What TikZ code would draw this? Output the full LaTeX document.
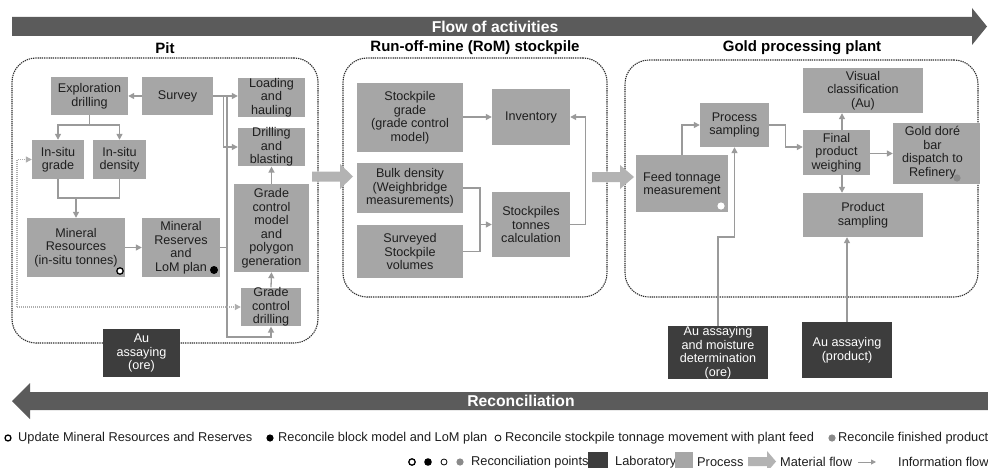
\documentclass[tikz,border=0pt]{standalone}
\usepackage{fontspec}
\setmainfont{Liberation Sans}
\usetikzlibrary{arrows.meta}
\definecolor{procfill}{HTML}{A6A6A6}
\definecolor{labfill}{HTML}{3D3D3D}
\definecolor{bannerfill}{HTML}{5B5B5B}
\definecolor{linegray}{HTML}{9A9A9A}
\definecolor{matfill}{HTML}{B3B3B3}
\definecolor{txt}{HTML}{1E1E1E}
\definecolor{framec}{HTML}{2E2E2E}
\definecolor{dotgray}{HTML}{8A8A8A}
\begin{document}
\begin{tikzpicture}[x=1pt,y=-1pt,
  proc/.style={fill=procfill, text=txt, align=center, inner sep=0pt, font=\fontsize{12.6}{13.5}\selectfont},
  lab/.style={fill=labfill, text=white, align=center, inner sep=0pt, font=\fontsize{12.6}{13.5}\selectfont},
  frame/.style={draw=framec, line width=1.1pt, dash pattern=on 1.3pt off 0.9pt, rounded corners=24pt, inner sep=0pt},
  ttl/.style={font=\fontsize{15}{17}\selectfont\bfseries, text=black, inner sep=0pt},
  conn/.style={draw=linegray, line width=1.3pt},
  arr/.style={conn, -{Triangle[length=6pt,width=6pt]}},
  info/.style={draw=linegray!80, line width=1.1pt, dash pattern=on 1pt off 1pt},
  infoarr/.style={info, -{Triangle[length=6pt,width=6pt]}},
  leg/.style={font=\fontsize{12.8}{14}\selectfont, text=txt, inner sep=0pt, anchor=west},
  ban/.style={font=\fontsize{15.7}{17}\selectfont\bfseries, text=white, inner sep=0pt},
  ringthick/.style={draw=black, line width=1.3pt, fill=white},
  ringthin/.style={draw=black, line width=0.8pt, fill=white},
]
\useasboundingbox (0,0) rectangle (988,468);
\fill[white] (0,0) rectangle (988,468);

% banners
\fill[bannerfill] (12,17) -- (972,17) -- (972,8) -- (987,26.5) -- (972,45) -- (972,36) -- (12,36) -- cycle;
\node[ban] (flowt) at (495,27) {Flow of activities};
\fill[bannerfill] (988,392) -- (30,392) -- (30,383) -- (12,401) -- (30,419) -- (30,410) -- (988,410) -- cycle;
\node[ban] (recont) at (521,401) {Reconciliation};

% frames
\node[frame, minimum width=306pt, minimum height=285pt] (pitf) at (165,200.5) {};
\node[frame, minimum width=264pt, minimum height=239pt] (romf) at (475,177.5) {};
\node[frame, minimum width=353pt, minimum height=237pt] (plantf) at (801.5,178.5) {};
\node[ttl] (pitt) at (165,48) {Pit};
\node[ttl] (romt) at (475,48) {Run-off-mine (RoM) stockpile};
\node[ttl] (plantt) at (802,48) {Gold processing plant};

% material flow arrows
\fill[matfill] (312,171.5) -- (340,171.5) -- (340,164) -- (353,176.5) -- (340,189) -- (340,181.5) -- (312,181.5) -- cycle;
\fill[matfill] (592,172) -- (620,172) -- (620,165) -- (634,177) -- (620,189) -- (620,182) -- (592,182) -- cycle;

% Pit boxes
\node[proc, minimum width=77pt, minimum height=38pt] (expl) at (89.5,96) {Exploration\\drilling};
\node[proc, minimum width=71pt, minimum height=38pt] (survey) at (177.5,96) {Survey};
\node[proc, minimum width=67pt, minimum height=39pt] (loading) at (271.5,97.5) {Loading\\and\\hauling};
\node[proc, minimum width=67pt, minimum height=38pt] (drilling) at (271.5,147) {Drilling\\and\\blasting};
\node[proc, minimum width=52pt, minimum height=39pt] (isgrade) at (58,159.5) {In-situ\\grade};
\node[proc, minimum width=53pt, minimum height=39pt] (isdens) at (119.5,159.5) {In-situ\\density};
\node[proc, minimum width=75pt, minimum height=88pt] (gcm) at (271.5,228) {Grade\\control\\model\\and\\polygon\\generation};
\node[proc, minimum width=98pt, minimum height=59pt] (minres) at (76,247.5) {Mineral\\Resources\\(in-situ tonnes)};
\node[proc, minimum width=78pt, minimum height=59pt] (minresv) at (181,247.5) {Mineral\\Reserves\\and\\LoM plan};
\node[proc, minimum width=60pt, minimum height=38pt] (gcd) at (271,307) {Grade\\control\\drilling};
\node[lab, minimum width=77pt, minimum height=48pt] (auore) at (141.5,353) {Au\\assaying\\(ore)};

\fill[white] (120,271) circle (3.5pt);
\draw[ringthick] (120,271) circle (3.2pt);
\fill[black] (214,270) circle (4pt);

% Pit connectors
\draw[arr] (survey.west) -- (expl.east);
\draw[arr] (survey.east) -- (loading.west |- survey.east);
\draw[arr] (survey.east) -- ++(10,0) |- (drilling.west);
\coordinate (vj) at (227,0);
\draw[conn] (minresv.east) -- (vj |- minresv.east);
\draw[conn] (vj |- survey.east) -- (vj |- 0,248);
\draw[arr] (vj |- 0,248) -- (vj |- 0,337) -| (gcd.south);
\draw[conn] (expl.south) -- (expl.south |- 0,125) coordinate (eb);
\draw[arr] (eb) -| (isgrade.north);
\draw[arr] (eb) -| (isdens.north);
\draw[conn] (isgrade.south) |- (isdens.south |- 0,198) -- (isdens.south);
\draw[arr] (minres.north |- 0,198) -- (minres.north);
\draw[arr] (minres.east) -- (minresv.west);
\draw[arr] (gcm.north) -- (drilling.south);
\draw[arr] (gcd.north) -- (gcm.south);
\coordinate (dfb) at (17,307);
\draw[infoarr] (dfb) |- (isgrade.west);
\draw[infoarr] (dfb) -- (gcd.west);

% RoM boxes
\node[proc, minimum width=106pt, minimum height=69pt] (spgrade) at (410,117.5) {Stockpile\\grade\\(grade control\\model)};
\node[proc, minimum width=78pt, minimum height=56pt] (inventory) at (531,117) {Inventory};
\node[proc, minimum width=106pt, minimum height=50pt] (bulk) at (410,188) {Bulk density\\(Weighbridge\\measurements)};
\node[proc, minimum width=106pt, minimum height=53pt] (surveyed) at (410,251.5) {Surveyed\\Stockpile\\volumes};
\node[proc, minimum width=78pt, minimum height=65pt] (sptonnes) at (531,224.5) {Stockpiles\\tonnes\\calculation};

% RoM connectors
\draw[arr] (spgrade.east |- inventory.west) -- (inventory.west);
\coordinate (rj) at (480,0);
\draw[conn] (bulk.east) -| (rj |- surveyed.east) -- (surveyed.east);
\draw[arr] (rj |- sptonnes.west) -- (sptonnes.west);
\draw[arr] (sptonnes.east) -- ++(15,0) |- (inventory.east);

% Plant boxes
\node[proc, minimum width=92pt, minimum height=57pt] (feed) at (682,183.5) {Feed tonnage\\measurement};
\node[proc, minimum width=69pt, minimum height=44pt] (procsamp) at (734.5,125) {Process\\sampling};
\node[proc, minimum width=120pt, minimum height=45pt] (visual) at (863,90.5) {Visual\\classification\\(Au)};
\node[proc, minimum width=67pt, minimum height=45pt] (fpw) at (836.5,152.5) {Final\\product\\weighing};
\node[proc, minimum width=87pt, minimum height=61pt] (dore) at (936.5,153.5) {\begin{tabular}{@{}c@{\hspace{8pt}}}Gold doré\\bar\\dispatch to\\Refinery\end{tabular}};
\node[proc, minimum width=120pt, minimum height=44pt] (prodsamp) at (863,215) {Product\\sampling};
\node[lab, minimum width=100pt, minimum height=51pt] (auore2) at (718,352.5) {Au assaying\\and moisture\\determination\\(ore)};
\node[lab, minimum width=90pt, minimum height=56pt] (auprod) at (847,350) {Au assaying\\(product)};

\fill[white] (721,206) circle (3.6pt);
\fill[dotgray] (957,178) circle (3.6pt);

% Plant connectors
\draw[arr] (feed.north) |- (procsamp.west);
\draw[arr] (procsamp.east) -- ++(16,0) |- ([yshift=5.5pt]fpw.west);
\draw[arr] (fpw.north -| 842,0) -- (visual.south -| 842,0);
\draw[arr] (fpw.south -| 842,0) -- (prodsamp.north -| 842,0);
\draw[arr] (fpw.east |- dore.west) -- (dore.west);
\draw[arr] (auore2.north) -- (auore2.north |- 0,237) -| (procsamp.south);
\draw[arr] (auprod.north) -- (auprod.north |- prodsamp.south);

% legend row 1
\draw[ringthick] (8,438) circle (3pt);
\node[leg] (l1) at (18,438) {Update Mineral Resources and Reserves};
\fill[black] (270,438) circle (3.6pt);
\node[leg] (l2) at (278,438) {Reconcile block model and LoM plan};
\draw[ringthin] (498,438) circle (3pt);
\node[leg] (l3) at (505,438) {Reconcile stockpile tonnage movement with plant feed};
\fill[dotgray] (832,438) circle (3.6pt);
\node[leg] (l4) at (838,438) {Reconcile finished product};

% legend row 2
\draw[ringthick] (412,462) circle (3.2pt);
\fill[black] (428,462) circle (3.8pt);
\draw[ringthin] (444,462) circle (3pt);
\fill[dotgray] (460,462) circle (3.6pt);
\node[leg] (l5) at (471,462) {Reconciliation points};
\node[fill=labfill, minimum width=20pt, minimum height=18pt, inner sep=0pt] (labkey) at (598,461) {};
\node[leg] (l6) at (615,462) {Laboratory};
\node[fill=procfill, minimum width=18pt, minimum height=18pt, inner sep=0pt] (prockey) at (684,461) {};
\node[leg] (l7) at (697,462) {Process};
\fill[matfill] (748,457) -- (767,457) -- (767,451) -- (776,461.5) -- (767,472) -- (767,466) -- (748,466) -- cycle;
\node[leg] (l8) at (780,462) {Material flow};
\coordinate (ia) at (858,462);
\coordinate (ib) at (876,462);
\draw[conn, line width=1pt, -{Triangle[length=5pt,width=5pt]}] (ia) -- (ib);
\node[leg] (l9) at (898,462) {Information flow};
\end{tikzpicture}
\end{document}
